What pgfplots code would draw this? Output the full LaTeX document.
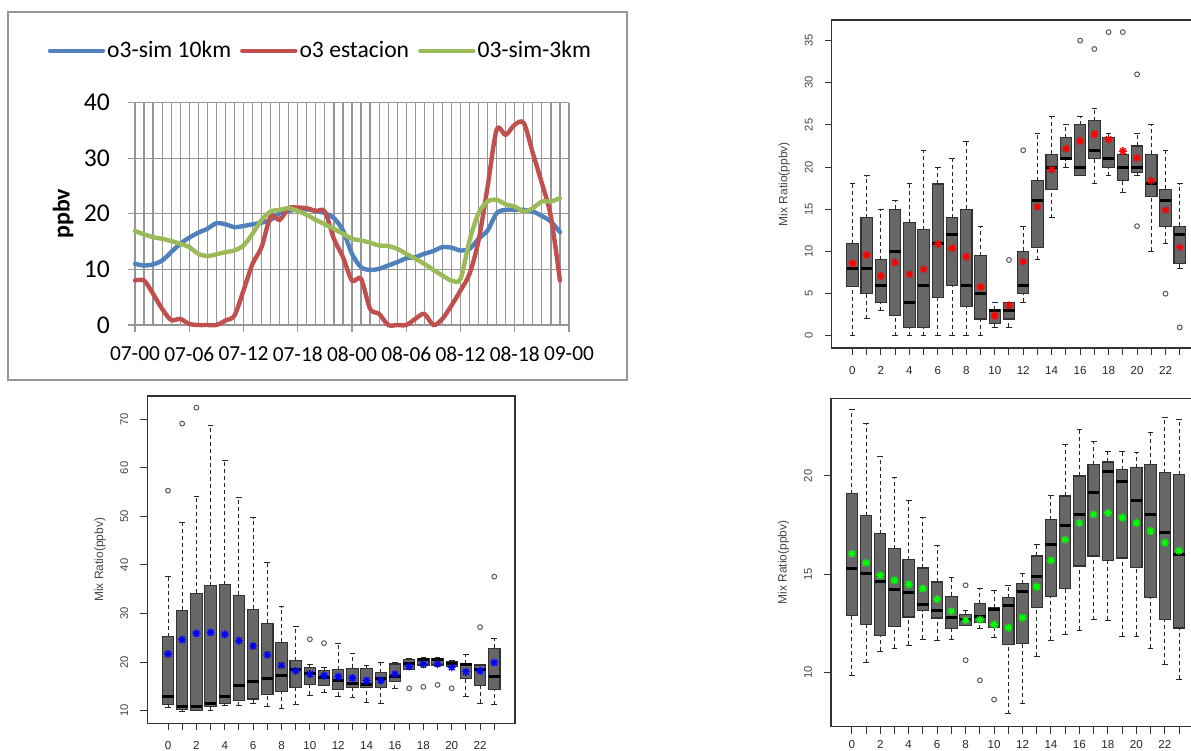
\documentclass[border=0pt]{standalone}
\usepackage{fontspec}
\setmainfont{Liberation Sans}
\newfontfamily\carlito{Carlito}
\usepackage{pgfplots}
\pgfplotsset{compat=1.18}
\usepgfplotslibrary{statistics}

\definecolor{xlblue}{RGB}{79,129,189}
\definecolor{xlred}{RGB}{192,80,77}
\definecolor{xlgreen}{RGB}{155,187,89}
\definecolor{xlgrid}{RGB}{150,150,150}
\definecolor{boxfill}{RGB}{103,103,103}
\definecolor{boxedge}{RGB}{50,50,50}
\definecolor{rtext}{RGB}{70,70,70}

% R's pch=8 : plus and cross on top of each other
\pgfdeclareplotmark{rstar}{%
  \pgfpathmoveto{\pgfqpoint{-\pgfplotmarksize}{0pt}}\pgfpathlineto{\pgfqpoint{\pgfplotmarksize}{0pt}}%
  \pgfpathmoveto{\pgfqpoint{0pt}{-\pgfplotmarksize}}\pgfpathlineto{\pgfqpoint{0pt}{\pgfplotmarksize}}%
  \pgfpathmoveto{\pgfqpoint{-0.707\pgfplotmarksize}{-0.707\pgfplotmarksize}}\pgfpathlineto{\pgfqpoint{0.707\pgfplotmarksize}{0.707\pgfplotmarksize}}%
  \pgfpathmoveto{\pgfqpoint{-0.707\pgfplotmarksize}{0.707\pgfplotmarksize}}\pgfpathlineto{\pgfqpoint{0.707\pgfplotmarksize}{-0.707\pgfplotmarksize}}%
  \pgfusepathqstroke}

\pgfplotsset{
  rpanel/.style={
    scale only axis, width=184.4pt, height=164pt, anchor=south west,
    xmin=-1.46, xmax=24.46,
    xtick={0,...,23},
    xticklabels={0,,2,,4,,6,,8,,10,,12,,14,,16,,18,,20,,22,},
    xtick pos=bottom, ytick pos=left,
    tick align=outside, major tick length=3.5pt,
    tick style={black!80, line width=0.5pt},
    axis line style={black!80, line width=0.6pt},
    /pgf/number format/assume math mode=true,
    xticklabel style={font=\fontsize{5.8}{6}\selectfont, text=black!85, yshift=-2pt},
    yticklabel style={font=\fontsize{5.6}{6}\selectfont, text=rtext, xshift=-2.5pt, rotate=90, anchor=south},
    ylabel={Mix Ratio(ppbv)},
    every axis y label/.style={at={(axis description cs:-0.1285,0.5)}, rotate=90, anchor=center,
      font=\fontsize{6}{6}\selectfont, text=rtext},
    boxplot/draw direction=y,
    boxplot/box extend=0.8,
    boxplot/whisker extend=0.4,
    boxplot/every box/.style={draw=boxedge, fill=boxfill, line width=0.55pt},
    boxplot/every median/.style={draw=black, line width=1.5pt},
    boxplot/draw/lower whisker/.code={%
      \draw[black!85, line width=0.5pt, dash pattern=on 2pt off 1.5pt]
        (boxplot box cs:\pgfplotsboxplotvalue{lower whisker},0.5) -- (boxplot box cs:\pgfplotsboxplotvalue{lower quartile},0.5);
      \draw[black!85, line width=0.5pt]
        (boxplot whisker cs:\pgfplotsboxplotvalue{lower whisker},0) -- (boxplot whisker cs:\pgfplotsboxplotvalue{lower whisker},1);
    },
    boxplot/draw/upper whisker/.code={%
      \draw[black!85, line width=0.5pt, dash pattern=on 2pt off 1.5pt]
        (boxplot box cs:\pgfplotsboxplotvalue{upper quartile},0.5) -- (boxplot box cs:\pgfplotsboxplotvalue{upper whisker},0.5);
      \draw[black!85, line width=0.5pt]
        (boxplot whisker cs:\pgfplotsboxplotvalue{upper whisker},0) -- (boxplot whisker cs:\pgfplotsboxplotvalue{upper whisker},1);
    },
    clip=false,
  },
  outl/.style={only marks, mark=o, mark size=1.2pt, black!65, mark options={line width=0.5pt}},
  meanm/.style={only marks, mark=rstar, mark size=2pt, #1, mark options={line width=0.7pt}},
}
% position, lower whisker, lower quartile, median, upper quartile, upper whisker
\newcommand{\bx}[6]{\addplot[boxedge, boxplot prepared={draw position=#1, lower whisker=#2,
  lower quartile=#3, median=#4, upper quartile=#5, upper whisker=#6}] coordinates {};}

\begin{document}
\begin{tikzpicture}
\useasboundingbox (0,0) rectangle (595.5pt,375.5pt);
\begin{scope}
\clip (0,0) rectangle (595.5pt,375.5pt);

% ---------------- Excel line chart (top left) ----------------
\draw[xlgrid, line width=0.6pt] (4pt,185.5pt) rectangle (313.5pt,369.5pt);
\begin{axis}[
  scale only axis, width=217pt, height=111.25pt, anchor=south west, at={(67.5pt,213pt)},
  xmin=0, xmax=48, ymin=0, ymax=40,
  xtick={0,6,...,48},
  xticklabels={07-00,07-06,07-12,07-18,08-00,08-06,08-12,08-18,09-00},
  minor x tick num=5,
  ytick={0,10,...,40},
  grid=both,
  major grid style={xlgrid, line width=0.6pt},
  minor grid style={xlgrid, line width=0.6pt},
  axis line style={draw=none},
  tick align=outside, xtick pos=bottom, ytick pos=left,
  major tick length=3.5pt, minor tick length=0pt,
  tick style={xlgrid, line width=0.6pt},
  /pgf/number format/assume math mode=true,
  xticklabel style={font=\carlito\fontsize{10.7}{12}\selectfont, yshift=-3.75pt},
  yticklabel style={font=\carlito\fontsize{12.8}{14}\selectfont, xshift=-5.5pt},
  ylabel={ppbv},
  every axis y label/.style={at={(axis description cs:-0.1659,0.5)}, rotate=90, anchor=center,
    font=\carlito\bfseries\fontsize{12}{14}\selectfont},
  legend columns=3,
  legend style={draw=none, fill=none, inner sep=0pt, outer sep=0pt,
    at={(axis description cs:-0.2010,1.2328)}, anchor=west,
    nodes={inner sep=0pt, font=\carlito\fontsize{11.8}{14}\selectfont},
    /tikz/every odd column/.append style={column sep=1pt},
    /tikz/every even column/.append style={column sep=4.5pt}},
  legend image code/.code={\draw[#1] (0pt,0pt) -- (26.5pt,0pt);},
  clip=false,
]
\addplot[xlblue, line width=2.2pt, smooth, tension=0.5, line cap=round] coordinates {
(0,11.0) (1,10.7) (2,10.9) (3,11.6) (4,13.1) (5,14.6) (6,15.7) (7,16.6) (8,17.3) (9,18.3)
(10,18.1) (11,17.6) (12,17.8) (13,18.1) (14,18.4) (15,18.9) (16,20.1) (17,20.5) (18,20.8) (19,20.8)
(20,20.5) (21,20.1) (22,19.2) (23,17.0) (24,12.8) (25,10.4) (26,9.9) (27,10.1) (28,10.7) (29,11.3)
(30,12.0) (31,12.2) (32,12.8) (33,13.3) (34,14.0) (35,13.9) (36,13.4) (37,13.7) (38,15.5) (39,17.0)
(40,20.1) (41,20.7) (42,20.7) (43,20.7) (44,20.4) (45,19.6) (46,18.6) (47,16.7)};
\addlegendentry{o3-sim 10km}
\addplot[xlred, line width=2.2pt, smooth, tension=0.5, line cap=round] coordinates {
(0,8.0) (1,8.0) (2,5.6) (3,2.9) (4,0.9) (5,1.1) (6,0.2) (7,0) (8,0) (9,0)
(10,0.8) (11,1.7) (12,6.2) (13,11.0) (14,14.0) (15,19.5) (16,18.9) (17,21.0) (18,21.1) (19,21.0)
(20,20.5) (21,20.4) (22,15.5) (23,12.2) (24,8.0) (25,8.3) (26,2.9) (27,2.0) (28,0) (29,0)
(30,0) (31,1.1) (32,2.0) (33,0) (34,1.1) (35,3.5) (36,6.2) (37,9.2) (38,15.2) (39,24.9)
(40,35.1) (41,34.2) (42,36.0) (43,36.3) (44,30.9) (45,25.5) (46,19.5) (47,8.0)};
\addlegendentry{o3 estacion}
\addplot[xlgreen, line width=2.2pt, smooth, tension=0.5, line cap=round] coordinates {
(0,16.9) (1,16.3) (2,15.8) (3,15.5) (4,15.1) (5,14.6) (6,14.0) (7,12.8) (8,12.4) (9,12.7)
(10,13.1) (11,13.4) (12,14.3) (13,16.4) (14,18.9) (15,20.4) (16,20.7) (17,21.0) (18,20.5) (19,19.8)
(20,18.9) (21,18.1) (22,17.3) (23,16.4) (24,15.5) (25,15.2) (26,14.8) (27,14.3) (28,14.2) (29,13.7)
(30,12.8) (31,11.9) (32,11.0) (33,9.9) (34,8.9) (35,8.0) (36,8.3) (37,15.2) (38,20.1) (39,22.2)
(40,22.5) (41,21.7) (42,21.3) (43,20.4) (44,21.0) (45,22.2) (46,22.2) (47,22.8)};
\addlegendentry{03-sim-3km}
\end{axis}

% ---------------- R boxplot, top right (red means) ----------------
\begin{axis}[rpanel, at={(415.85pt,201.5pt)}, ymin=-1.44, ymax=37.44, ytick={0,5,...,35}]
\bx{0}{0}{5.9}{8}{10.9}{18}
\bx{1}{2}{5}{8}{14}{19}
\bx{2}{3}{4}{6}{9}{15}
\bx{3}{0}{2.4}{10}{15}{16}
\bx{4}{0}{1}{4}{13.4}{18}
\bx{5}{0}{1}{6}{12.6}{22}
\bx{6}{0}{4.5}{11}{18}{20}
\bx{7}{0}{6}{12}{14}{21}
\bx{8}{0}{3.5}{6}{15}{23}
\bx{9}{0}{2}{5}{9.5}{13}
\bx{10}{1}{1.5}{3}{3.1}{4}
\bx{11}{1}{2}{3}{4}{4}
\bx{12}{4}{5}{6}{10}{13}
\bx{13}{9}{10.5}{16}{18.4}{24}
\bx{14}{14}{17.4}{20}{21.5}{26}
\bx{15}{20}{20.9}{21}{23.5}{25}
\bx{16}{19}{19}{20}{25}{26}
\bx{17}{18}{21}{22}{25.5}{27}
\bx{18}{19}{20}{21}{23.5}{24}
\bx{19}{17}{18.4}{20}{21.5}{21.5}
\bx{20}{19}{19.4}{20}{22.5}{24}
\bx{21}{10}{16.5}{18}{21.5}{25}
\bx{22}{11}{13}{16}{17.4}{22}
\bx{23}{8}{8.6}{12}{13}{18}
\addplot[outl] coordinates {(11,9) (12,22) (16,35) (17,34) (18,36) (19,36) (20,31) (20,13) (22,5) (23,1)};
\addplot[meanm=red] coordinates {
(0,8.6) (1,9.6) (2,7.1) (3,8.7) (4,7.3) (5,7.9) (6,10.9) (7,10.4) (8,9.4) (9,5.8) (10,2.4) (11,3.6)
(12,8.8) (13,15.3) (14,19.7) (15,22.2) (16,23.1) (17,23.9) (18,23.3) (19,21.9) (20,21.1) (21,18.4) (22,14.9) (23,10.5)};
\end{axis}

% ---------------- R boxplot, bottom left (blue means) ----------------
\begin{axis}[rpanel, at={(73.65pt,13.85pt)}, width=183.85pt, height=163.65pt,
  ymin=7.39, ymax=74.79, ytick={10,20,...,70}]
\bx{0}{10.7}{11.2}{12.9}{25.2}{37.6}
\bx{1}{9.8}{10.3}{10.8}{30.7}{48.8}
\bx{2}{10.0}{10.0}{10.8}{34.2}{54.1}
\bx{3}{10.1}{10.8}{11.5}{35.7}{68.7}
\bx{4}{11.0}{11.5}{13.0}{35.9}{61.5}
\bx{5}{11.0}{12.1}{15.1}{33.8}{53.9}
\bx{6}{11.5}{12.4}{16.0}{30.9}{49.7}
\bx{7}{10.8}{13.4}{16.7}{28.0}{40.5}
\bx{8}{10.5}{13.9}{17.3}{24.1}{31.4}
\bx{9}{11.2}{14.8}{18.4}{20.3}{27.3}
\bx{10}{13.2}{15.3}{17.7}{18.9}{19.4}
\bx{11}{13.7}{15.1}{16.9}{18.2}{18.9}
\bx{12}{13.0}{14.4}{16.2}{18.4}{23.9}
\bx{13}{12.7}{14.8}{15.6}{18.7}{21.8}
\bx{14}{11.7}{14.8}{15.3}{18.7}{19.2}
\bx{15}{11.4}{14.8}{16.7}{17.8}{20.0}
\bx{16}{14.5}{16.0}{17.0}{19.6}{19.9}
\bx{17}{18.4}{18.4}{19.7}{20.6}{20.8}
\bx{18}{18.9}{19.4}{20.6}{20.8}{20.9}
\bx{19}{19.1}{19.4}{20.6}{20.8}{21.0}
\bx{20}{18.5}{19.1}{19.7}{20.2}{20.4}
\bx{21}{12.9}{16.7}{19.4}{19.6}{21.5}
\bx{22}{11.5}{15.1}{18.4}{19.4}{19.6}
\bx{23}{11.2}{14.3}{17.1}{22.8}{24.9}
\addplot[outl] coordinates {(0,55.3) (1,69.1) (2,72.4) (10,24.7) (11,23.9) (17,14.6) (18,14.9) (19,15.3) (20,14.6) (22,27.2) (23,37.6)};
\addplot[meanm=blue] coordinates {
(0,21.7) (1,24.6) (2,25.9) (3,26.1) (4,25.7) (5,24.4) (6,23.3) (7,21.5) (8,19.3) (9,18.2) (10,17.5) (11,17.2)
(12,17.0) (13,16.7) (14,16.2) (15,16.2) (16,17.5) (17,19.1) (18,19.6) (19,19.6) (20,18.9) (21,18.0) (22,18.2) (23,19.9)};
\end{axis}

% ---------------- R boxplot, bottom right (green means) ----------------
\begin{axis}[rpanel, at={(415.5pt,12.15pt)}, height=164.2pt,
  ymin=7.25, ymax=23.95, ytick={10,15,20},
  xticklabel style={yshift=2pt}]
\bx{0}{9.83}{12.92}{15.29}{19.10}{23.37}
\bx{1}{10.49}{12.44}{15.03}{17.97}{22.69}
\bx{2}{11.08}{11.90}{14.64}{17.07}{20.97}
\bx{3}{11.25}{12.36}{14.24}{16.29}{19.90}
\bx{4}{11.39}{12.83}{14.05}{15.75}{18.76}
\bx{5}{11.69}{13.14}{13.47}{15.32}{17.88}
\bx{6}{11.64}{12.78}{13.14}{14.61}{16.46}
\bx{7}{11.69}{12.24}{12.80}{13.88}{14.86}
\bx{8}{12.41}{12.41}{12.69}{12.95}{13.17}
\bx{9}{12.24}{12.53}{12.83}{13.51}{14.27}
\bx{10}{11.78}{12.29}{13.20}{13.31}{14.19}
\bx{11}{7.92}{11.44}{13.41}{13.80}{14.41}
\bx{12}{8.42}{11.47}{14.10}{14.53}{15.03}
\bx{13}{10.83}{13.31}{14.90}{15.93}{16.49}
\bx{14}{11.64}{13.85}{16.53}{17.78}{19.03}
\bx{15}{11.93}{14.27}{17.46}{18.98}{21.58}
\bx{16}{12.15}{15.42}{18.03}{20.00}{22.36}
\bx{17}{12.69}{15.93}{19.14}{20.58}{21.73}
\bx{18}{12.66}{15.71}{20.25}{20.71}{21.22}
\bx{19}{11.86}{15.83}{19.73}{20.32}{21.25}
\bx{20}{11.86}{15.34}{18.76}{20.42}{21.17}
\bx{21}{11.25}{13.80}{18.03}{20.59}{22.19}
\bx{22}{10.42}{12.69}{17.15}{20.17}{22.97}
\bx{23}{9.66}{12.27}{16.02}{20.07}{22.88}
\addplot[outl] coordinates {(8,14.44) (8,10.63) (9,9.61) (10,8.63)};
\addplot[meanm=green] coordinates {
(0,16.05) (1,15.58) (2,14.95) (3,14.69) (4,14.49) (5,14.27) (6,13.73) (7,13.12) (8,12.66) (9,12.69) (10,12.44) (11,12.29)
(12,12.80) (13,14.36) (14,15.71) (15,16.76) (16,17.61) (17,18.05) (18,18.12) (19,17.88) (20,17.61) (21,17.19) (22,16.61) (23,16.19)};
\end{axis}
\end{scope}
\end{tikzpicture}
\end{document}
